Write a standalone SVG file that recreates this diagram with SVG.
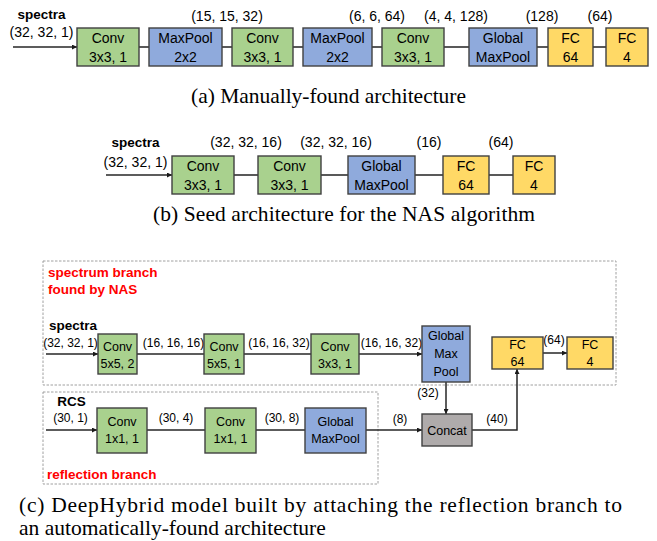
<svg xmlns="http://www.w3.org/2000/svg" width="657" height="541" viewBox="0 0 657 541">
<defs>
<marker id="ah" viewBox="0 0 6 6" refX="6" refY="3" markerWidth="5" markerHeight="5" markerUnits="userSpaceOnUse" orient="auto">
<path d="M0,0 L6,3 L0,6 z" fill="#1a1a1a"/>
</marker>
<style>
.g{fill:#A9D18E;stroke:#404040;stroke-width:1.4}
.b{fill:#8FAADC;stroke:#404040;stroke-width:1.4}
.y{fill:#FFD966;stroke:#404040;stroke-width:1.4}
.k{fill:#AFABAB;stroke:#404040;stroke-width:1.4}
.t{font-family:"Liberation Sans",Arial,sans-serif;font-size:14px;fill:#000;text-anchor:middle}
.tc{font-family:"Liberation Sans",Arial,sans-serif;font-size:12.5px;fill:#000;text-anchor:middle}
.lb{font-family:"Liberation Sans",Arial,sans-serif;font-size:14px;fill:#000;text-anchor:middle}
.lc{font-family:"Liberation Sans",Arial,sans-serif;font-size:12px;fill:#000;text-anchor:middle}
.bold{font-family:"Liberation Sans",Arial,sans-serif;font-size:13.5px;font-weight:bold;fill:#000}
.red{font-family:"Liberation Sans",Arial,sans-serif;font-size:13.5px;font-weight:bold;fill:#FF0000}
.cap{font-family:"Liberation Serif","Times New Roman",serif;font-size:21.5px;fill:#000}
.ga{stroke:#595959;stroke-width:2;fill:none}
.da{stroke:#262626;stroke-width:1.5;fill:none}
.dash{fill:none;stroke:#a0a0a0;stroke-width:1;stroke-dasharray:2.5,1.5}
</style>
</defs>

<!-- (a) -->
<g id="connectors-a">
<line x1="13" y1="47" x2="77" y2="47" class="da" marker-end="url(#ah)"/>
<line x1="139" y1="47" x2="149" y2="47" class="ga"/>
<line x1="222" y1="47" x2="232" y2="47" class="ga"/>
<line x1="293" y1="47" x2="303" y2="47" class="ga"/>
<line x1="372" y1="47" x2="382" y2="47" class="ga"/>
<line x1="444" y1="47" x2="469" y2="47" class="ga"/>
<line x1="537" y1="47" x2="548" y2="47" class="ga"/>
<line x1="593" y1="47" x2="606" y2="47" class="ga"/>
</g>
<g id="labels-a">
<text x="41.5" y="19" class="bold" text-anchor="middle">spectra</text>
<text x="41.5" y="37" class="lb">(32, 32, 1)</text>
<text x="227" y="21" class="lb">(15, 15, 32)</text>
<text x="377" y="21" class="lb">(6, 6, 64)</text>
<text x="456" y="21" class="lb">(4, 4, 128)</text>
<text x="542" y="21" class="lb">(128)</text>
<text x="600" y="21" class="lb">(64)</text>
</g>
<g id="a-conv1"><rect x="77" y="28" width="62" height="38" class="g"/><text x="108" y="43" class="t">Conv</text><text x="108" y="62" class="t">3x3, 1</text></g>
<g id="a-pool1"><rect x="149" y="28" width="73" height="38" class="b"/><text x="185.5" y="43" class="t">MaxPool</text><text x="185.5" y="62" class="t">2x2</text></g>
<g id="a-conv2"><rect x="232" y="28" width="61" height="38" class="g"/><text x="262.5" y="43" class="t">Conv</text><text x="262.5" y="62" class="t">3x3, 1</text></g>
<g id="a-pool2"><rect x="303" y="28" width="69" height="38" class="b"/><text x="337.5" y="43" class="t">MaxPool</text><text x="337.5" y="62" class="t">2x2</text></g>
<g id="a-conv3"><rect x="382" y="28" width="62" height="38" class="g"/><text x="413" y="43" class="t">Conv</text><text x="413" y="62" class="t">3x3, 1</text></g>
<g id="a-gmp"><rect x="469" y="28" width="68" height="38" class="b"/><text x="503" y="43" class="t">Global</text><text x="503" y="62" class="t">MaxPool</text></g>
<g id="a-fc64"><rect x="548" y="28" width="45" height="38" class="y"/><text x="570.5" y="43" class="t">FC</text><text x="570.5" y="62" class="t">64</text></g>
<g id="a-fc4"><rect x="606" y="28" width="42" height="38" class="y"/><text x="627" y="43" class="t">FC</text><text x="627" y="62" class="t">4</text></g>
<text x="191" y="103" class="cap" textLength="275" lengthAdjust="spacing">(a) Manually-found architecture</text>

<!-- (b) -->
<g id="connectors-b">
<line x1="106" y1="175" x2="172" y2="175" class="da" marker-end="url(#ah)"/>
<line x1="234" y1="175" x2="258" y2="175" class="ga"/>
<line x1="321" y1="175" x2="348" y2="175" class="ga"/>
<line x1="415" y1="175" x2="443" y2="175" class="ga"/>
<line x1="489" y1="175" x2="513" y2="175" class="ga"/>
</g>
<g id="labels-b">
<text x="135.5" y="147" class="bold" text-anchor="middle">spectra</text>
<text x="135.5" y="167" class="lb">(32, 32, 1)</text>
<text x="246" y="147" class="lb">(32, 32, 16)</text>
<text x="336" y="147" class="lb">(32, 32, 16)</text>
<text x="429" y="147" class="lb">(16)</text>
<text x="501" y="147" class="lb">(64)</text>
</g>
<g id="b-conv1"><rect x="172" y="156" width="62" height="38" class="g"/><text x="203" y="171" class="t">Conv</text><text x="203" y="190" class="t">3x3, 1</text></g>
<g id="b-conv2"><rect x="258" y="156" width="63" height="38" class="g"/><text x="289.5" y="171" class="t">Conv</text><text x="289.5" y="190" class="t">3x3, 1</text></g>
<g id="b-gmp"><rect x="348" y="156" width="67" height="38" class="b"/><text x="381.5" y="171" class="t">Global</text><text x="381.5" y="190" class="t">MaxPool</text></g>
<g id="b-fc64"><rect x="443" y="156" width="46" height="38" class="y"/><text x="466" y="171" class="t">FC</text><text x="466" y="190" class="t">64</text></g>
<g id="b-fc4"><rect x="513" y="156" width="42" height="38" class="y"/><text x="534" y="171" class="t">FC</text><text x="534" y="190" class="t">4</text></g>
<text x="153" y="221" class="cap" textLength="382" lengthAdjust="spacing">(b) Seed architecture for the NAS algorithm</text>

<!-- (c) -->
<g id="spectrum-branch">
<rect x="43" y="261" width="573" height="124" class="dash"/>
<text x="48" y="277" class="red">spectrum branch</text>
<text x="48" y="294" class="red">found by NAS</text>
</g>
<g id="reflection-branch">
<rect x="43" y="392" width="335" height="92" class="dash"/>
<text x="47" y="479" class="red">reflection branch</text>
</g>
<g id="connectors-c">
<line x1="46" y1="354" x2="98" y2="354" class="da" marker-end="url(#ah)"/>
<line x1="137" y1="354" x2="204" y2="354" class="da"/>
<line x1="244" y1="354" x2="311" y2="354" class="da"/>
<line x1="359" y1="354" x2="422" y2="354" class="da" marker-end="url(#ah)"/>
<line x1="543" y1="353" x2="567" y2="353" class="da" marker-end="url(#ah)"/>
<line x1="46" y1="430" x2="97" y2="430" class="da" marker-end="url(#ah)"/>
<line x1="147" y1="430" x2="205" y2="430" class="da"/>
<line x1="256" y1="430" x2="305" y2="430" class="da"/>
<line x1="366" y1="430" x2="422" y2="430" class="da" marker-end="url(#ah)"/>
<line x1="446" y1="382" x2="446" y2="414" class="da" marker-end="url(#ah)"/>
<polyline points="472,430 517,430 517,369" class="da" marker-end="url(#ah)"/>
</g>
<g id="labels-c">
<text x="49" y="330" class="bold">spectra</text>
<text x="70.5" y="347" class="lc">(32, 32, 1)</text>
<text x="173.5" y="347" class="lc">(16, 16, 16)</text>
<text x="279" y="347" class="lc">(16, 16, 32)</text>
<text x="391.5" y="347" class="lc">(16, 16, 32)</text>
<text x="554" y="344" class="lc">(64)</text>
<text x="71.5" y="406" class="bold" text-anchor="middle">RCS</text>
<text x="70.5" y="422" class="lc">(30, 1)</text>
<text x="176" y="422" class="lc">(30, 4)</text>
<text x="282" y="422" class="lc">(30, 8)</text>
<text x="400" y="423" class="lc">(8)</text>
<text x="428" y="397" class="lc">(32)</text>
<text x="497" y="423" class="lc">(40)</text>
</g>
<g id="c-conv1"><rect x="98" y="334" width="39" height="40" class="g"/><text x="117.5" y="351" class="tc">Conv</text><text x="117.5" y="368" class="tc">5x5, 2</text></g>
<g id="c-conv2"><rect x="204" y="334" width="40" height="40" class="g"/><text x="224" y="351" class="tc">Conv</text><text x="224" y="368" class="tc">5x5, 1</text></g>
<g id="c-conv3"><rect x="311" y="334" width="48" height="40" class="g"/><text x="335" y="351" class="tc">Conv</text><text x="335" y="368" class="tc">3x3, 1</text></g>
<g id="c-gmp"><rect x="422" y="326" width="48" height="56" class="b"/><text x="446" y="340" class="tc">Global</text><text x="446" y="358" class="tc">Max</text><text x="446" y="376" class="tc">Pool</text></g>
<g id="c-fc64"><rect x="492" y="337" width="51" height="32" class="y"/><text x="517.5" y="349" class="tc">FC</text><text x="517.5" y="366" class="tc">64</text></g>
<g id="c-fc4"><rect x="567" y="337" width="46" height="32" class="y"/><text x="590" y="349" class="tc">FC</text><text x="590" y="366" class="tc">4</text></g>
<g id="r-conv1"><rect x="97" y="408" width="50" height="45" class="g"/><text x="122" y="426" class="tc">Conv</text><text x="122" y="443" class="tc">1x1, 1</text></g>
<g id="r-conv2"><rect x="205" y="408" width="51" height="45" class="g"/><text x="230.5" y="426" class="tc">Conv</text><text x="230.5" y="443" class="tc">1x1, 1</text></g>
<g id="r-gmp"><rect x="305" y="408" width="61" height="45" class="b"/><text x="335.5" y="426" class="tc">Global</text><text x="335.5" y="443" class="tc">MaxPool</text></g>
<g id="concat"><rect x="422" y="414" width="50" height="32" class="k"/><text x="447" y="435" class="tc">Concat</text></g>
<text x="19" y="512" class="cap" textLength="603" lengthAdjust="spacing">(c) DeepHybrid model built by attaching the reflection branch to</text>
<text x="19" y="535" class="cap">an automatically-found architecture</text>
</svg>
